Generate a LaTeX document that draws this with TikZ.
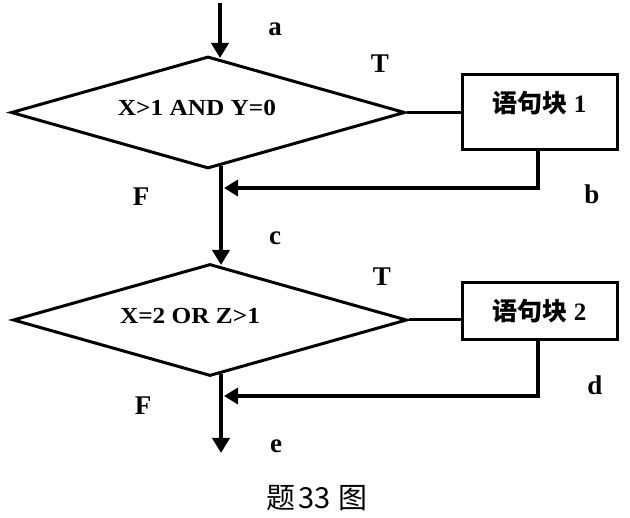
\documentclass[tikz,border=0pt]{standalone}
\usepackage{fontspec}
\setmainfont{Liberation Serif}
\newfontfamily\dtext[FakeStretch=1.1]{Liberation Serif}
\newfontfamily\cjk{Noto Sans CJK SC}
\usetikzlibrary{shapes.geometric,arrows.meta}
\begin{document}
\begin{tikzpicture}[x=1pt,y=-1pt,
  decision/.style={diamond,draw,line width=3pt,inner sep=0pt,minimum width=394pt,minimum height=112pt},
  blockbox/.style={rectangle,draw,line width=3pt,minimum width=155pt,inner xsep=0pt,
     font=\fontsize{25}{30}\selectfont\bfseries},
  condtext/.style={font=\dtext\fontsize{23}{27}\selectfont\bfseries,inner sep=0pt},
  lbl/.style={font=\fontsize{27}{30}\selectfont\bfseries,inner sep=0pt},
  thinline/.style={line width=3pt},
  flow/.style={line width=4pt,-{Triangle[length=15pt,width=17pt]}},
  back/.style={line width=4.5pt,-{Triangle[length=14pt,width=16pt]}}
]
\useasboundingbox[fill=white] (0,0) rectangle (630,518);

% decisions
\node[decision] (d1) at (208,112.5) {};
\node[condtext] (t1) at (197,107.5) {X>1 AND Y=0};
\node[decision] (d2) at (210,320) {};
\node[condtext] (t2) at (190,316) {X=2 OR Z>1};

% blocks
\node[blockbox,minimum height=75pt,inner ysep=0pt,text height=37.5pt,text depth=37.5pt] (b1) at (539.5,112.5) {{\cjk 语句块} 1};
\node[blockbox,minimum height=57pt] (b2) at (539.5,311.5) {{\cjk 语句块} 2};

% coordinates on the main flow line
\coordinate (in) at (220,3);
\coordinate (in1) at (220,58);
\coordinate (o1) at (221,166);
\coordinate (in2) at (221,265);
\coordinate (m1) at (224,188);
\coordinate (o2) at (221,374);
\coordinate (m2) at (224,396);
\coordinate (out) at (221,453);

% flow
\draw[flow] (in) -- (in1);
\draw[flow] (o1) -- (in2);
\draw[flow] (o2) -- (out);
\draw[thinline] (d1.east) -- (d1.east -| b1.west);
\draw[thinline] (d2.east) -- (d2.east -| b2.west);
\draw[back] ([xshift=-1.5pt]b1.south) |- (m1);
\draw[back] ([xshift=-1.5pt]b2.south) |- (m2);

% labels
\node[lbl] (la) at (275,29) {a};
\node[lbl] (lT1) at (380,64) {T};
\node[lbl] (lF1) at (141,197) {F};
\node[lbl] (lb) at (592,194) {b};
\node[lbl] (lc) at (275,238) {c};
\node[lbl] (lT2) at (382,277) {T};
\node[lbl] (lF2) at (143,406) {F};
\node[lbl] (ld) at (595,385) {d};
\node[lbl] (le) at (276,446) {e};

% caption
\node[font=\cjk\fontsize{29}{32}\selectfont,inner sep=0pt] (cap) at (317,498) {题\hspace{3pt}33\hspace{7pt}图};
\end{tikzpicture}
\end{document}
